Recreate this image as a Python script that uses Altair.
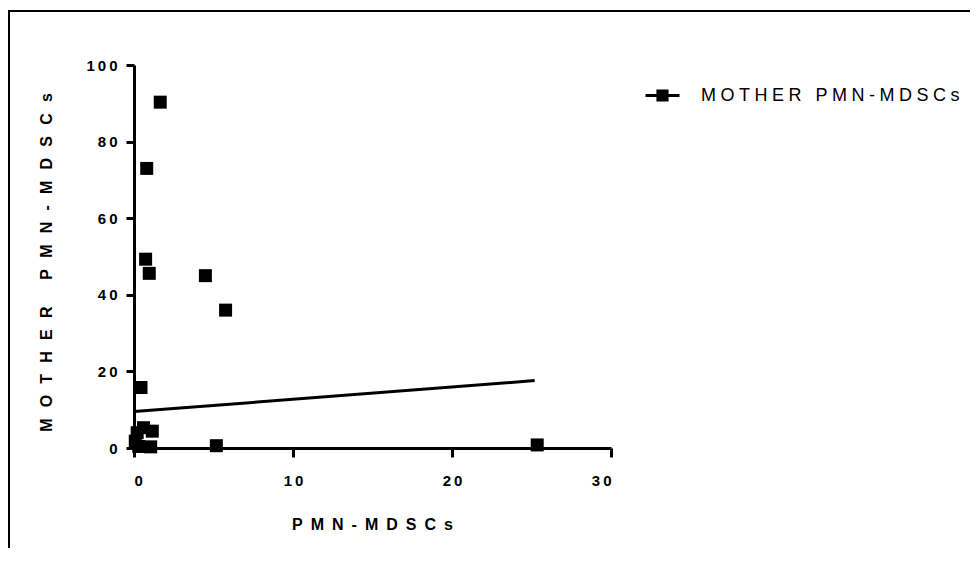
import altair as alt
import pandas as pd

# Scatter points (PMN-MDSCs vs MOTHER PMN-MDSCs)
px = [1.65, 0.80, 0.73, 0.96, 4.49, 5.76, 0.44, 5.18, 25.36, 0.20, 0.60, 1.15, 0.30, 1.05, 0.08]
py = [90.3, 73.0, 49.3, 45.6, 45.0, 36.0, 15.8, 0.6, 0.8, 4.0, 5.3, 4.4, 0.4, 0.3, 1.8]

# Fitted line end points
fit_x = [0.0, 25.2]
fit_y = [9.5, 17.6]

series_name = "MOTHER PMN-MDSCs"
x_title = "PMN-MDSCs"
y_title = "MOTHER PMN-MDSCs"
x_ticks = [0, 10, 20, 30]
y_ticks = [0, 20, 40, 60, 80, 100]

FONT = "Liberation Sans"

pts = pd.DataFrame({"x": px, "y": py})
fit = pd.DataFrame({"x": fit_x, "y": fit_y, "series": [series_name] * len(fit_x)})
frame = pd.DataFrame({"k": [0]})

spaced = lambda s, sep: sep.join(list(s))

xscale = alt.Scale(domain=[0, 30], nice=False, zero=True)
yscale = alt.Scale(domain=[0, 100], nice=False, zero=True)

lab_expr = "join(split(datum.label, ''), '\u2009')"

x_axis = alt.Axis(
    values=x_ticks, grid=False, domainColor="black", domainWidth=3, tickColor="black",
    tickWidth=3, tickSize=9, labelFont=FONT, labelFontSize=15, labelFontWeight="bold",
    labelColor="black", labelPadding=16, labelExpr=lab_expr,
    title=spaced(x_title, "\u2002"), titleFont=FONT, titleFontSize=16, titleFontWeight="bold",
    titleColor="black", titleX=238, titleY=76, titleBaseline="middle", titleAlign="center",
)
y_axis = alt.Axis(
    values=y_ticks, grid=False, domainColor="black", domainWidth=3, tickColor="black",
    tickWidth=3, tickSize=8, labelFont=FONT, labelFontSize=15, labelFontWeight="bold",
    labelColor="black", labelPadding=9, labelExpr=lab_expr,
    title=spaced(y_title, "\u2002\u2009"), titleFont=FONT, titleFontSize=16, titleFontWeight="bold",
    titleColor="black", titleX=-88, titleY=197, titleAngle=270, titleBaseline="middle",
    titleAlign="center",
)

points = alt.Chart(pts).mark_square(size=169, color="black", opacity=1).encode(
    x=alt.X("x:Q", scale=xscale, axis=x_axis),
    y=alt.Y("y:Q", scale=yscale, axis=y_axis),
)

sym_path = "M-1,0H1M-0.27,-0.27H0.27V0.27H-0.27Z"

line = alt.Chart(fit).mark_line(color="black", strokeWidth=3).encode(
    x=alt.X("x:Q", scale=xscale),
    y=alt.Y("y:Q", scale=yscale),
    color=alt.Color(
        "series:N",
        scale=alt.Scale(range=["black"]),
        legend=alt.Legend(
            title=None, orient="none", legendX=510, legendY=12, padding=0,
            symbolType=sym_path, symbolSize=1156, symbolStrokeWidth=3,
            symbolFillColor="black", symbolStrokeColor="black", symbolOffset=0,
            labelFont=FONT, labelFontSize=18, labelColor="black", labelOffset=20,
            labelLimit=400,
            labelExpr="join(split(datum.label, ''), '\u2005')",
        ),
    ),
)

border = alt.Chart(frame).mark_rect(filled=False, stroke="black", strokeWidth=2).encode(
    x=alt.value(-125), y=alt.value(-54), x2=alt.value(1200), y2=alt.value(1000)
)

chart = alt.layer(border, line, points).properties(
    width=477, height=383,
    autosize=alt.AutoSizeParams(type="none"),
    padding={"left": 126, "top": 57, "right": 359, "bottom": 100},
).configure_view(stroke=None)

chart.save("out.html", embed_options={"renderer": "svg", "actions": False})
